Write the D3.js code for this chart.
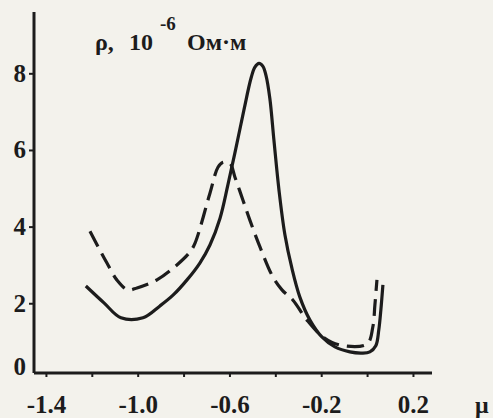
<!DOCTYPE html>
<html>
<head>
<meta charset="utf-8">
<script src="https://cdn.jsdelivr.net/npm/d3@7"></script>
<style>
  html, body { margin: 0; padding: 0; background: #f3f2ec; }
  svg { display: block; }
</style>
</head>
<body>
<svg width="493" height="418"></svg>
<script>
// data: mu (x) and rho in 10^-6 Ohm*m (y)
const solidMu = [-1.226, -1.147, -1.073, -0.977, -0.903, -0.846, -0.785, -0.729, -0.685, -0.641,
  -0.607, -0.572, -0.537, -0.506, -0.489, -0.471, -0.454, -0.441, -0.424, -0.406,
  -0.384, -0.358, -0.328, -0.293, -0.249, -0.197, -0.14, -0.075, -0.022, 0.012,
  0.038, 0.051, 0.06, 0.069];
const solidRho = [2.45, 2.01, 1.62, 1.62, 1.93, 2.21, 2.61, 3.05, 3.52, 4.22,
  5.08, 6.04, 7.04, 7.87, 8.16, 8.26, 8.18, 7.95, 7.35, 6.25,
  4.95, 3.78, 2.92, 2.16, 1.56, 1.12, 0.86, 0.73, 0.7, 0.73,
  0.89, 1.3, 1.82, 2.48];

const dashMu = [-1.208, -1.165, -1.134, -1.091, -1.043, -1.003, -0.916, -0.829, -0.772, -0.75,
  -0.685, -0.65, -0.628, -0.598, -0.576, -0.541, -0.511, -0.467, -0.41, -0.371,
  -0.323, -0.262, -0.192, -0.118, 0.0, 0.025, 0.034, 0.043];
const dashRho = [3.88, 3.39, 3.05, 2.61, 2.35, 2.4, 2.61, 3.0, 3.34, 3.57,
  4.87, 5.55, 5.68, 5.65, 5.29, 4.69, 4.17, 3.47, 2.68, 2.35,
  2.08, 1.56, 1.12, 0.91, 0.94, 1.38, 1.95, 2.61];

const xTicks = [-1.4, -1.2, -1.0, -0.8, -0.6, -0.4, -0.2, 0, 0.2];
const xLabels = [-1.4, -1.0, -0.6, -0.2, 0.2];
const yTicks = [2, 4, 6, 8];

const INK = '#1c1c1c';
const FONT = '"Liberation Serif", "Times New Roman", serif';
const svg = d3.select('svg');

// scales (axis frame runs a bit past the labelled ticks)
const x = d3.scaleLinear().domain([-1.452, 0.283]).range([34, 432]);
const y = d3.scaleLinear().domain([0.18, 9.6]).range([373, 12]);

// x axis
const xAxis = svg.append('g')
  .attr('transform', `translate(0,${y(0.18)})`)
  .call(d3.axisBottom(x)
    .tickValues(xTicks)
    .tickSize(4)
    .tickFormat(d => (xLabels.some(v => Math.abs(v - d) < 1e-9) ? d3.format('.1f')(d) : '')));
xAxis.select('.domain').attr('stroke', INK).attr('stroke-width', 3).attr('d', `M${x.range()[0]},0H${x.range()[1]}`);
xAxis.selectAll('.tick line').attr('stroke', INK).attr('stroke-width', 2);
xAxis.selectAll('.tick text')
  .attr('y', 22)
  .attr('dy', '0.71em')
  .attr('fill', INK)
  .attr('font-family', FONT)
  .attr('font-weight', 'bold')
  .attr('font-size', 25)
  .text(function (d) { return d3.select(this).text().replace('−', '-'); });

// y axis
const yAxis = svg.append('g')
  .attr('transform', `translate(${x.range()[0]},0)`)
  .call(d3.axisLeft(y).tickValues(yTicks).tickSize(5).tickFormat(d3.format('d')));
yAxis.select('.domain').attr('stroke', INK).attr('stroke-width', 3).attr('d', `M0,${y.range()[0]}V${y.range()[1]}`);
yAxis.selectAll('.tick line').attr('stroke', INK).attr('stroke-width', 2);
yAxis.selectAll('.tick text')
  .attr('x', -8)
  .attr('fill', INK)
  .attr('font-family', FONT)
  .attr('font-weight', 'bold')
  .attr('font-size', 25);

// zero label at the corner
svg.append('text')
  .attr('x', x.range()[0] - 8)
  .attr('y', y(0.18) - 6)
  .attr('dy', '0.32em')
  .attr('text-anchor', 'end')
  .attr('fill', INK)
  .attr('font-family', FONT)
  .attr('font-weight', 'bold')
  .attr('font-size', 25)
  .text('0');

// curves
const line = d3.line()
  .x(d => x(d[0]))
  .y(d => y(d[1]))
  .curve(d3.curveCatmullRom.alpha(0.5));

svg.append('path')
  .attr('d', line(d3.zip(solidMu, solidRho)))
  .attr('fill', 'none')
  .attr('stroke', INK)
  .attr('stroke-width', 3.2)
  .attr('stroke-linejoin', 'round');

svg.append('path')
  .attr('d', line(d3.zip(dashMu, dashRho)))
  .attr('fill', 'none')
  .attr('stroke', INK)
  .attr('stroke-width', 3.2)
  .attr('stroke-dasharray', '17,8');

// axis titles
const title = svg.append('text')
  .attr('y', 50)
  .attr('fill', INK)
  .attr('font-family', FONT)
  .attr('font-weight', 'bold')
  .attr('font-size', 24);
title.append('tspan').attr('x', 95).text('ρ,');
title.append('tspan').attr('x', 129).text('10');
title.append('tspan').attr('x', 160).attr('y', 30).attr('font-size', 19).text('-6');
title.append('tspan').attr('x', 187).attr('y', 50).text('Ом·м');

svg.append('text')
  .attr('x', 475)
  .attr('y', 413)
  .attr('fill', INK)
  .attr('font-family', FONT)
  .attr('font-weight', 'bold')
  .attr('font-size', 24)
  .text('μ');
</script>
</body>
</html>
